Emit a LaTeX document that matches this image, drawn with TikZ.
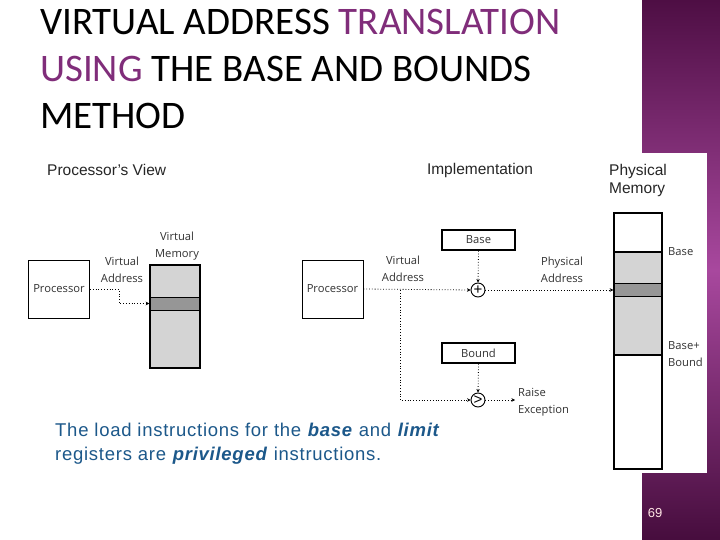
\documentclass[tikz,border=0pt]{standalone}
\usepackage{fontspec}
\setmainfont{Liberation Sans}
\newfontfamily\titlefont{Carlito}
\newfontfamily\diagfont{Open Sans}
\newfontfamily\notefont{Liberation Sans}[LetterSpace=4]
\usetikzlibrary{arrows.meta,positioning}
\definecolor{titlepurple}{RGB}{128,45,122}
\definecolor{captionblue}{RGB}{28,88,138}
\definecolor{paneldark}{RGB}{78,14,68}
\definecolor{panellight}{RGB}{168,72,158}
\definecolor{memlight}{RGB}{212,212,212}
\definecolor{memdark}{RGB}{150,150,150}
\definecolor{diagtext}{RGB}{50,50,50}
\begin{document}
\begin{tikzpicture}[
	x=1pt, y=-1pt,
	titel/.style={anchor=base west, inner sep=0pt,
		font=\titlefont\fontsize{39}{44}\selectfont},
	kopf/.style={inner sep=0pt, text=black!85,
		font=\fontsize{15.5}{18}\selectfont},
	etikett/.style={inner sep=0pt, text=diagtext, align=center,
		font=\diagfont\fontsize{11.2}{17}\selectfont},
	proz/.style={draw, line width=1pt, minimum width=61pt,
		minimum height=58pt, inner sep=0pt, text=diagtext,
		font=\diagfont\fontsize{11.2}{12}\selectfont},
	register/.style={draw, line width=1.5pt, minimum width=73pt,
		minimum height=20pt, inner sep=0pt, text=diagtext,
		font=\diagfont\fontsize{11.2}{12}\selectfont},
	op/.style={circle, draw, line width=0.9pt, minimum size=14pt,
		inner sep=0pt, font=\fontsize{15}{15}\selectfont},
	speicher/.style={draw, line width=1.5pt, inner sep=0pt},
	fluss/.style={dotted, line width=0.8pt,
		-{Stealth[length=3.5pt,width=3.5pt]}},
	]
	\useasboundingbox (0,0) rectangle (720,540);
	\fill[white] (0,0) rectangle (720,540);
	
	% purple panel on the right
	\shade[top color=paneldark, bottom color=paneldark!90!black,
	middle color=panellight] (642,0) rectangle (720,540);
	\fill[white] (25,153) rectangle (707,473);
	
	% title
	\node[titel] (t1) at (40,35)
	{VIRTUAL ADDRESS \textcolor{titlepurple}{TRANSLATION}};
	\node[titel] (t2) at (40,82)
	{\textcolor{titlepurple}{USING} THE BASE AND BOUNDS};
	\node[titel] (t3) at (40,129) {METHOD};
	
	% processor's view
	\node[kopf, anchor=west] (pview) at (47,170) {Processor’s View};
	\node[proz] (proc1) at (59,289) {Processor};
	\fill[memlight] (150,265) rectangle (200,368);
	\fill[memdark] (150,297) rectangle (200,310);
	\draw[line width=1pt] (150,297) -- (200,297) (150,310) -- (200,310);
	\node[speicher, minimum width=50pt, minimum height=103pt]
	(vmem) at (175,316.5) {};
	\node[etikett] (vmemlbl) at (177,246) {Virtual\\Memory};
	\node[etikett] (va1) at (122,270) {Virtual\\Address};
	\coordinate (knick1) at (119,303.5);
	\draw[fluss] (proc1.east) -| (knick1) -- (knick1 -| vmem.west);
	
	% implementation
	\node[kopf] (impl) at (480,170) {Implementation};
	\node[proz] (proc2) at (332.5,289) {Processor};
	\node[register] (base) at (478.5,240) {Base};
	\node[register] (bound) at (478.5,353) {Bound};
	\node[op] (plus) at (478,290) {+};
	\node[op] (vgl) at (478,400) {>};
	\node[etikett] (va2) at (403,269) {Virtual\\Address};
	\node[etikett] (pa) at (562,269.5) {Physical\\Address};
	\coordinate (abzw) at (400,290);
	\coordinate (fehler) at (515,400);
	\node[etikett, anchor=west, align=left] (raise) at (518,402.5)
	{Raise\\Exception};
	\draw[fluss] (proc2.east) -- (plus.west);
	\draw[fluss] (base.south) -- (plus.north);
	\draw[fluss] (bound.south) -- (vgl.north);
	\draw[fluss] (abzw) |- (vgl.west);
	\draw[fluss] (vgl.east) -- (fehler);
	
	% physical memory
	\node[kopf, anchor=north west, align=left] (pmemlbl) at (609,164)
	{Physical\\Memory};
	\fill[memlight] (614,252) rectangle (662,355);
	\fill[memdark] (614,283) rectangle (662,296);
	\draw[line width=1.5pt] (614,252) -- (662,252) (614,355) -- (662,355);
	\draw[line width=1pt] (614,283) -- (662,283) (614,296) -- (662,296);
	\node[speicher, minimum width=48pt, minimum height=256pt]
	(pmem) at (638,341) {};
	\draw[fluss] (plus.east) -- (plus.east -| pmem.west);
	\node[etikett, anchor=west] (lbase) at (668,252) {Base};
	\node[etikett, anchor=west, align=left] (lbound) at (668,354.5)
	{Base+\\Bound};
	
	% caption
	\node[anchor=north west, inner sep=0pt, text=captionblue, align=left,
	font=\notefont\fontsize{18.5}{24}\selectfont] (note) at (55,423)
	{The load instructions for the \textbf{\textit{base}} and \textbf{\textit{limit}}\\
		registers are \textbf{\textit{privileged}} instructions.};
	
	% slide number
	\node[text=pink!40!white, font=\fontsize{13}{14}\selectfont]
	(seite) at (655,513) {69};
\end{tikzpicture}
\end{document}
